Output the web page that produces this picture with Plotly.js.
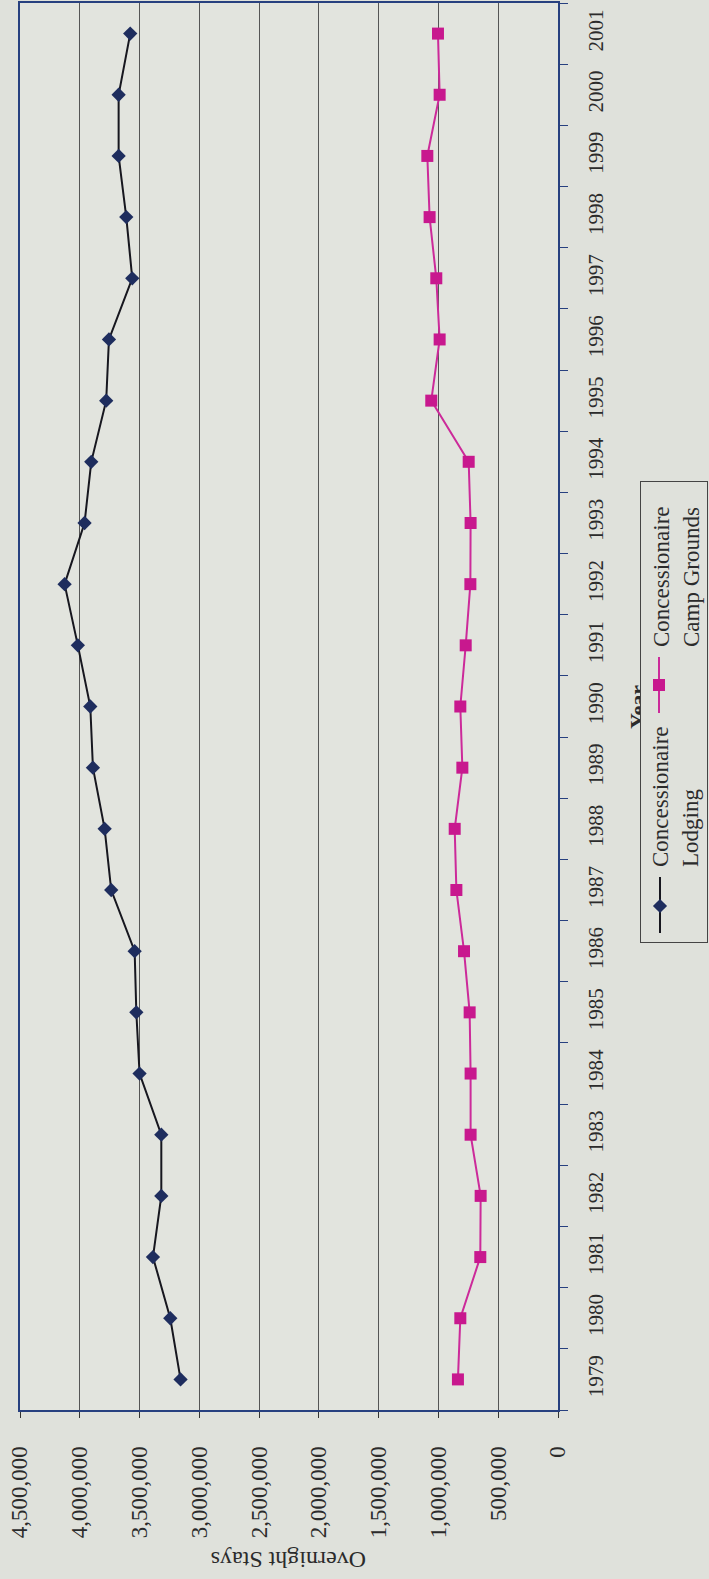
<!DOCTYPE html>
<html><head><meta charset="utf-8">
<script src="https://cdn.plot.ly/plotly-3.0.1.min.js"></script>
<style>html,body{margin:0;padding:0;background:#dfe1db;}</style>
</head><body>
<div id="chart" style="width:709px;height:1579px;"></div>
<script>
// ---- data ----
const years = ['1979','1980','1981','1982','1983','1984','1985','1986','1987','1988','1989','1990',
               '1991','1992','1993','1994','1995','1996','1997','1998','1999','2000','2001'];
const lodging = [3157000,3243000,3388000,3318000,3318000,3500000,3527000,3541000,3737000,3792000,3890000,3912000,
                 4016000,4127000,3960000,3904000,3779000,3756000,3561000,3611000,3675000,3675000,3578000];
const campGrounds = [837000,817000,650000,647000,731000,731000,739000,786000,850000,864000,800000,817000,
                     772000,733000,731000,747000,1060000,990000,1018000,1074000,1093000,990000,1004000];
const valueTicks = [0,500000,1000000,1500000,2000000,2500000,3000000,3500000,4000000,4500000];
const valueTickLabels = ['0','500,000','1,000,000','1,500,000','2,000,000','2,500,000','3,000,000','3,500,000','4,000,000','4,500,000'];
const seriesLine1 = ['Concessionaire','Lodging'];
const seriesLine2 = ['Concessionaire','Camp Grounds'];
const valueTitle = 'Overnight Stays';
const yearTitle = 'Year';

// ---- geometry ----
const W = 709, H = 1579;
const M = {l:20, r:151, t:3, b:169};
const pw = W - M.l - M.r, ph = H - M.t - M.b;
const px = v => (v - M.l) / pw;
const py = v => (H - M.b - v) / ph;
const serif = 'Liberation Serif, Times New Roman, serif';
const txt = '#2b2b2b';
const bg = '#dfe1db';
const frame = '#27407f';
const lodgeLine = '#17171f', lodgeMark = '#1e2d5e';
const campLine = '#cc2a9a', campMark = '#c8188e';

const traces = [
  {x: lodging, y: years, type:'scatter', mode:'lines+markers', name: seriesLine1.join(' '),
   line:{color:lodgeLine, width:2}, marker:{symbol:'diamond', size:11, color:lodgeMark}},
  {x: campGrounds, y: years, type:'scatter', mode:'lines+markers', name: seriesLine2.join(' '),
   line:{color:campLine, width:2}, marker:{symbol:'square', size:12, color:campMark}}
];

function box(cx, cy, w, h, color, angle, border) {
  return {xref:'paper', yref:'paper', x:px(cx), y:py(cy), xanchor:'center', yanchor:'middle',
          text:' ', showarrow:false, width:w, height:h, bgcolor:color, borderpad:0,
          borderwidth: border ? 1 : 0, bordercolor: border || 'rgba(0,0,0,0)',
          textangle: angle || 0, font:{size:1}};
}

const annotations = [
  {xref:'paper', yref:'paper', x:px(289), y:py(1560), xanchor:'center', yanchor:'middle',
   text: valueTitle, textangle:180, showarrow:false, font:{family:serif, size:24, color:txt}},
  {xref:'paper', yref:'paper', x:px(637), y:py(707), xanchor:'center', yanchor:'middle',
   text: '<b>' + yearTitle + '</b>', textangle:-90, showarrow:false, font:{family:serif, size:22, color:txt}},
  // legend frame
  box(674, 712, 66, 460, bg, 0, '#444'),
  // legend keys
  box(660, 905, 2, 56, lodgeLine),
  box(660, 906, 10, 10, lodgeMark, 45),
  box(659, 685, 2, 56, campLine),
  box(659, 685, 12, 12, campMark),
  // legend texts
  {xref:'paper', yref:'paper', x:px(676), y:py(797), xanchor:'center', yanchor:'middle',
   text: seriesLine1.join('<br>'), align:'left', textangle:-90, showarrow:false,
   font:{family:serif, size:23, color:txt}},
  {xref:'paper', yref:'paper', x:px(676), y:py(577), xanchor:'center', yanchor:'middle',
   text: seriesLine2.join('<br>'), align:'left', textangle:-90, showarrow:false,
   font:{family:serif, size:23, color:txt}}
];

const layout = {
  width: W, height: H,
  margin: {l:M.l, r:M.r, t:M.t, b:M.b, pad:0},
  paper_bgcolor: bg, plot_bgcolor: '#e2e4de',
  showlegend: false, hovermode: false,
  xaxis: {range:[4500000, 0], tickmode:'array', tickvals: valueTicks, ticktext: valueTickLabels,
          tickangle:-90, ticks:'outside', ticklen:6, tickcolor:'#333', tickwidth:1,
          showgrid:true, gridcolor:'#555', gridwidth:1, zeroline:false,
          showline:true, linecolor:frame, linewidth:2, mirror:true,
          tickfont:{family:serif, size:23, color:txt}, ticklabelstandoff:19},
  yaxis: {type:'category', range:[-0.5, 22.5], side:'right', tickson:'boundaries',
          ticks:'outside', ticklen:8, tickcolor:frame, tickwidth:1, tickangle:-90,
          showgrid:false, zeroline:false, showline:true, linecolor:frame, linewidth:2, mirror:true,
          tickfont:{family:serif, size:21, color:txt}, ticklabelstandoff:18},
  annotations: annotations
};

Plotly.newPlot('chart', traces, layout, {displayModeBar:false, staticPlot:true});
</script>
</body></html>
